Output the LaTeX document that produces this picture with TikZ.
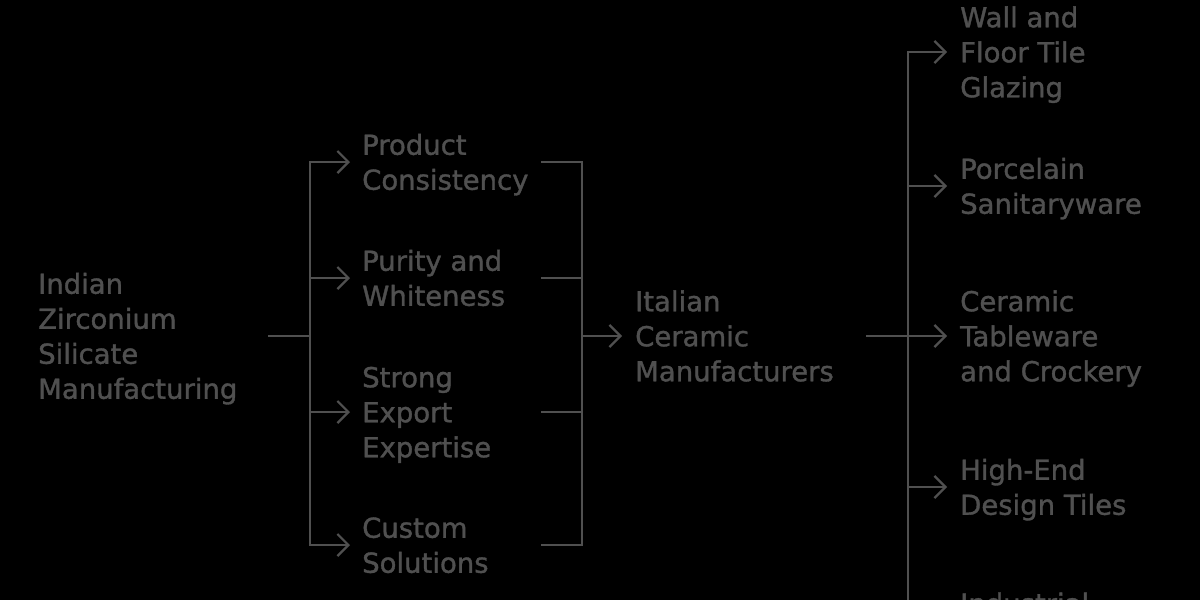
\documentclass[tikz,border=0pt]{standalone}
\usepackage{fontspec}
\setmainfont[FakeBold=1.3]{DejaVu Sans}
\usetikzlibrary{arrows.meta}
\definecolor{ink}{HTML}{505050}
\begin{document}
\begin{tikzpicture}[x=1pt,y=-1pt,
  lbl/.style={anchor=base west, inner sep=0pt, align=left, text=ink, font=\fontsize{27.5}{35}\selectfont},
  wire/.style={draw=ink, line width=2.2pt},
  arr/.style={wire, -{Straight Barb[length=11pt,width=22pt,line width=2.2pt]}}]
\fill[black] (0,0) rectangle (1200,600);
\useasboundingbox (0,0) rectangle (1200,600);
\clip (0,0) rectangle (1200,600);
% nodes (base = baseline of the last line)
\node[lbl] (src) at (38,398.75) {Indian\\Zirconium\\Silicate\\Manufacturing};
\node[lbl] (pc) at (362,189.75) {Product\\Consistency};
\node[lbl] (pw) at (362,305.75) {Purity and\\Whiteness};
\node[lbl] (se) at (362,457.25) {Strong\\Export\\Expertise};
\node[lbl] (cs) at (362,572.75) {Custom\\Solutions};
\node[lbl] (it) at (635,381.25) {Italian\\Ceramic\\Manufacturers};
\node[lbl] (wf) at (960,97.25) {Wall and\\Floor Tile\\Glazing};
\node[lbl] (ps) at (960,213.75) {Porcelain\\Sanitaryware};
\node[lbl] (ct) at (960,381.25) {Ceramic\\Tableware\\and Crockery};
\node[lbl] (hd) at (960,514.75) {High-End\\Design Tiles};
\node[lbl] (ia) at (960,613.5) {Industrial};
% coordinates
\coordinate (oS) at (268,336);
\coordinate (j1) at (310,336);
\coordinate (tPC) at (350,162);
\coordinate (tPW) at (350,278);
\coordinate (tSE) at (350,412);
\coordinate (tCS) at (350,545);
\coordinate (oPC) at (541,162);
\coordinate (oPW) at (541,278);
\coordinate (oSE) at (541,412);
\coordinate (oCS) at (541,545);
\coordinate (j2) at (582,336);
\coordinate (tIT) at (622,336);
\coordinate (oIT) at (866,336);
\coordinate (j3) at (908,336);
\coordinate (tWF) at (947,52);
\coordinate (tPS) at (947,186);
\coordinate (tCT) at (947,336);
\coordinate (tHD) at (947,487);
\coordinate (tIA) at (947,620);
% connectors
\draw[wire] (oS) -- (j1);
\draw[arr] (j1) |- (tPC);
\draw[arr] (j1) |- (tPW);
\draw[arr] (j1) |- (tSE);
\draw[arr] (j1) |- (tCS);
\draw[wire] (oPC) -| (j2);
\draw[wire] (oPW) -| (j2);
\draw[wire] (oSE) -| (j2);
\draw[wire] (oCS) -| (j2);
\draw[arr] (j2) -- (tIT);
\draw[wire] (oIT) -- (j3);
\draw[arr] (j3) |- (tWF);
\draw[arr] (j3) |- (tPS);
\draw[arr] (j3) -- (tCT);
\draw[arr] (j3) |- (tHD);
\draw[arr] (j3) |- (tIA);
\end{tikzpicture}
\end{document}
